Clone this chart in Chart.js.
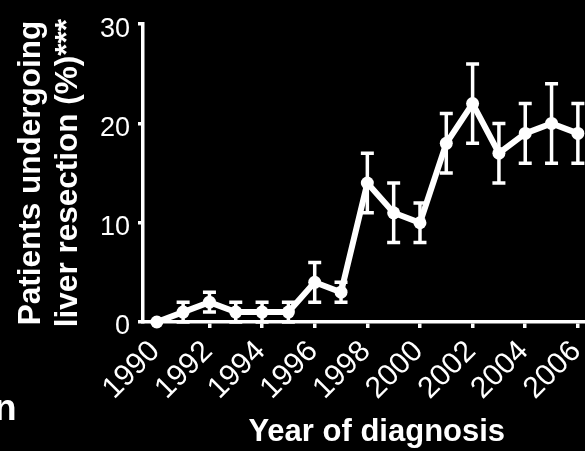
<!DOCTYPE html>
<html>
<head>
<meta charset="utf-8">
<script src="https://cdn.jsdelivr.net/npm/chart.js@4"></script>
<style>
  html, body { margin: 0; padding: 0; background: #000; overflow: hidden; width: 585px; height: 451px; }
  #wrap { position: relative; width: 585px; height: 451px; overflow: hidden; }
  canvas { position: absolute; left: 0; top: 0; }
  #frag { position: absolute; left: -6px; top: 389px; font: bold 37px 'Liberation Sans', Arial, sans-serif; line-height: 1; color: #fff; }
</style>
</head>
<body>
<div id="wrap">
  <canvas id="c" width="617" height="451" style="width:617px;height:451px"></canvas>
  <span id="frag">n</span>
</div>
<script>
// ---- data ----
const years      = [1990, 1991, 1992, 1993, 1994, 1995, 1996, 1997, 1998, 1999, 2000, 2001, 2002, 2003, 2004, 2005, 2006];
const resection  = [0, 1, 2, 1, 1, 1, 4, 3, 14, 11, 10, 18, 22, 17, 19, 20, 19];
const errLower   = [0, 0, 1, 0, 0, 0, 2, 2, 11, 8, 8, 15, 18, 14, 16, 16, 16];
const errUpper   = [0, 2, 3, 2, 2, 2, 6, 4, 17, 14, 12, 21, 26, 20, 22, 24, 22];
const xTickLabels = ['1990', '1992', '1994', '1996', '1998', '2000', '2002', '2004', '2006'];
const yTickLabels = ['0', '10', '20', '30'];
const yTitle = ['Patients undergoing', 'liver resection (%)***'];
const xTitle = 'Year of diagnosis';

const FONT = "'Liberation Sans', Arial, sans-serif";

const bgPlugin = {
  id: 'bg',
  beforeDraw(chart) {
    const ctx = chart.ctx;
    ctx.save();
    ctx.fillStyle = '#000';
    ctx.fillRect(0, 0, chart.width, chart.height);
    ctx.restore();
  }
};

const errorBars = {
  id: 'errorBars',
  afterDatasetsDraw(chart) {
    const ctx = chart.ctx;
    const xs = chart.scales.x, ys = chart.scales.y;
    ctx.save();
    ctx.strokeStyle = '#fff';
    ctx.lineCap = 'butt';
    years.forEach((yr, i) => {
      if (errUpper[i] === errLower[i]) return;
      const px = xs.getPixelForValue(yr);
      const top = ys.getPixelForValue(errUpper[i]);
      const bot = ys.getPixelForValue(errLower[i]);
      const cap = 6.5;
      ctx.lineWidth = 3.5;
      ctx.beginPath();
      ctx.moveTo(px, top); ctx.lineTo(px, bot);
      ctx.stroke();
      ctx.beginPath();
      ctx.moveTo(px - cap, top); ctx.lineTo(px + cap, top);
      ctx.moveTo(px - cap, bot); ctx.lineTo(px + cap, bot);
      ctx.stroke();
    });
    ctx.restore();
  }
};

new Chart(document.getElementById('c'), {
  type: 'line',
  data: {
    datasets: [{
      data: years.map((y, i) => ({ x: y, y: resection[i] })),
      borderColor: '#fff',
      backgroundColor: '#fff',
      borderWidth: 6,
      pointRadius: 6.5,
      pointBorderWidth: 0,
      pointBackgroundColor: '#fff',
      tension: 0,
      clip: false
    }]
  },
  options: {
    responsive: false,
    animation: false,
    devicePixelRatio: 1,
    layout: { padding: { left: 0, right: 0, top: 22, bottom: 0 } },
    plugins: { legend: { display: false }, tooltip: { enabled: false } },
    scales: {
      x: {
        type: 'linear',
        min: 1989.475,
        max: 2007.24,
        afterFit(s) { s.height = 129; },
        border: { display: true, color: '#fff', width: 3.5 },
        grid: { drawOnChartArea: false, drawTicks: true, tickLength: 6, color: '#fff', lineWidth: 3.5 },
        ticks: {
          stepSize: 2,
          includeBounds: false,
          autoSkip: false,
          minRotation: 45,
          maxRotation: 45,
          padding: 6,
          labelOffset: -1.5,
          color: '#fff',
          font: { family: FONT, size: 30 },
          callback: (v) => xTickLabels.find(l => +l === v) || ''
        },
        title: {
          display: true,
          text: xTitle,
          color: '#fff',
          font: { family: FONT, size: 31, weight: 'bold' },
          padding: { top: 0, bottom: 0 }
        }
      },
      y: {
        min: 0,
        max: 30,
        afterFit(s) { s.width = 143; },
        border: { display: true, color: '#fff', width: 3.5 },
        grid: { drawOnChartArea: false, drawTicks: true, tickLength: 5, color: '#fff', lineWidth: 3.5 },
        ticks: {
          stepSize: 10,
          padding: 8,
          labelOffset: 5,
          color: '#fff',
          font: { family: FONT, size: 27 },
          callback: (v) => yTickLabels.find(l => +l === v) ?? ''
        },
        title: {
          display: true,
          text: yTitle,
          color: '#fff',
          font: { family: FONT, size: 31.5, weight: 'bold' },
          padding: { top: 12, bottom: 0 }
        }
      }
    }
  },
  plugins: [bgPlugin, errorBars]
});
</script>
</body>
</html>
